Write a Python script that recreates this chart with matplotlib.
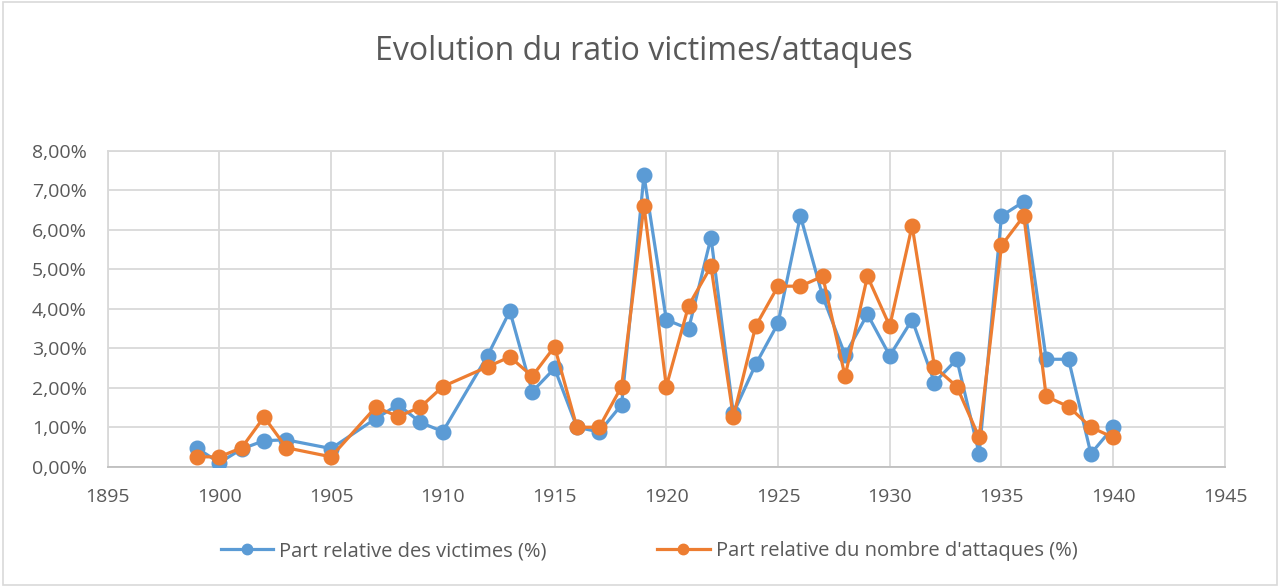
import matplotlib
matplotlib.use("Agg")
import matplotlib.pyplot as plt
from matplotlib.ticker import FuncFormatter, MultipleLocator
from matplotlib.patches import Rectangle
from matplotlib.lines import Line2D

years = [1899, 1900, 1901, 1902, 1903, 1905, 1907, 1908, 1909, 1910, 1912, 1913,
         1914, 1915, 1916, 1917, 1918, 1919, 1920, 1921, 1922, 1923, 1924, 1925,
         1926, 1927, 1928, 1929, 1930, 1931, 1932, 1933, 1934, 1935, 1936, 1937,
         1938, 1939, 1940]
victimes = [0.47, 0.10, 0.45, 0.66, 0.68, 0.46, 1.22, 1.57, 1.12, 0.89, 2.81, 3.94,
            1.90, 2.49, 1.00, 0.88, 1.57, 7.38, 3.72, 3.49, 5.80, 1.35, 2.59, 3.63,
            6.35, 4.31, 2.83, 3.86, 2.81, 3.72, 2.13, 2.72, 0.33, 6.35, 6.71, 2.72,
            2.72, 0.33, 1.00]
attaques = [0.25, 0.25, 0.48, 1.26, 0.48, 0.25, 1.51, 1.27, 1.51, 2.03, 2.53, 2.78,
            2.29, 3.04, 1.00, 1.00, 2.03, 6.61, 2.03, 4.08, 5.07, 1.26, 3.56, 4.57,
            4.57, 4.82, 2.29, 4.82, 3.56, 6.10, 2.53, 2.03, 0.74, 5.60, 6.35, 1.78,
            1.52, 1.00, 0.74]

title = "Evolution du ratio victimes/attaques"
label_v = "Part relative des victimes (%)"
label_a = "Part relative du nombre d'attaques (%)"

plt.rcParams['font.family'] = ['Open Sans', 'DejaVu Sans']

fig = plt.figure(figsize=(12.8, 5.87), dpi=100)
fig.patches.append(Rectangle((0.002, 0.003), 0.996, 0.994, transform=fig.transFigure,
                             fill=False, edgecolor='#D9D9D9', linewidth=1.2))
ax = fig.add_axes([0.0841, 0.2049, 0.8729, 0.5384])

blue = '#5B9BD5'
orange = '#ED7D31'
ax.plot(years, victimes, color=blue, linewidth=2.3, marker='o', markersize=10.5,
        label=label_v, zorder=3)
ax.plot(years, attaques, color=orange, linewidth=2.3, marker='o', markersize=10.5,
        label=label_a, zorder=4)

ax.set_xlim(1895, 1945)
ax.set_ylim(0, 8)
ax.xaxis.set_major_locator(MultipleLocator(5))
ax.yaxis.set_major_locator(MultipleLocator(1))
ax.yaxis.set_major_formatter(FuncFormatter(lambda v, p: f"{v:.2f}%".replace('.', ',')))
ax.grid(True, color='#D9D9D9', linewidth=1.3)
ax.set_axisbelow(True)
for s in ['top', 'right', 'left']:
    ax.spines[s].set_color('#D9D9D9')
    ax.spines[s].set_linewidth(1.3)
ax.spines['bottom'].set_color('#BFBFBF')
ax.spines['bottom'].set_linewidth(1.3)
ax.tick_params(length=0, labelsize=14, labelcolor='#595959')
ax.tick_params(axis='y', pad=15)
ax.tick_params(axis='x', pad=15)

fig.text(0.503, 0.913, title, ha='center', va='center', fontsize=23, color='#595959')

handles = [Line2D([], [], color=blue, linewidth=2.3, marker='o', markersize=7.5),
           Line2D([], [], color=orange, linewidth=2.3, marker='o', markersize=7.5)]
leg = fig.legend(handles, [label_v, label_a], loc='center',
                 bbox_to_anchor=(0.507, 0.061), ncol=2, frameon=False,
                 fontsize=14.5, handlelength=2.6, handletextpad=0.3,
                 columnspacing=5.5)
for t in leg.get_texts():
    t.set_color('#595959')

fig.savefig('out.png', dpi=100)
